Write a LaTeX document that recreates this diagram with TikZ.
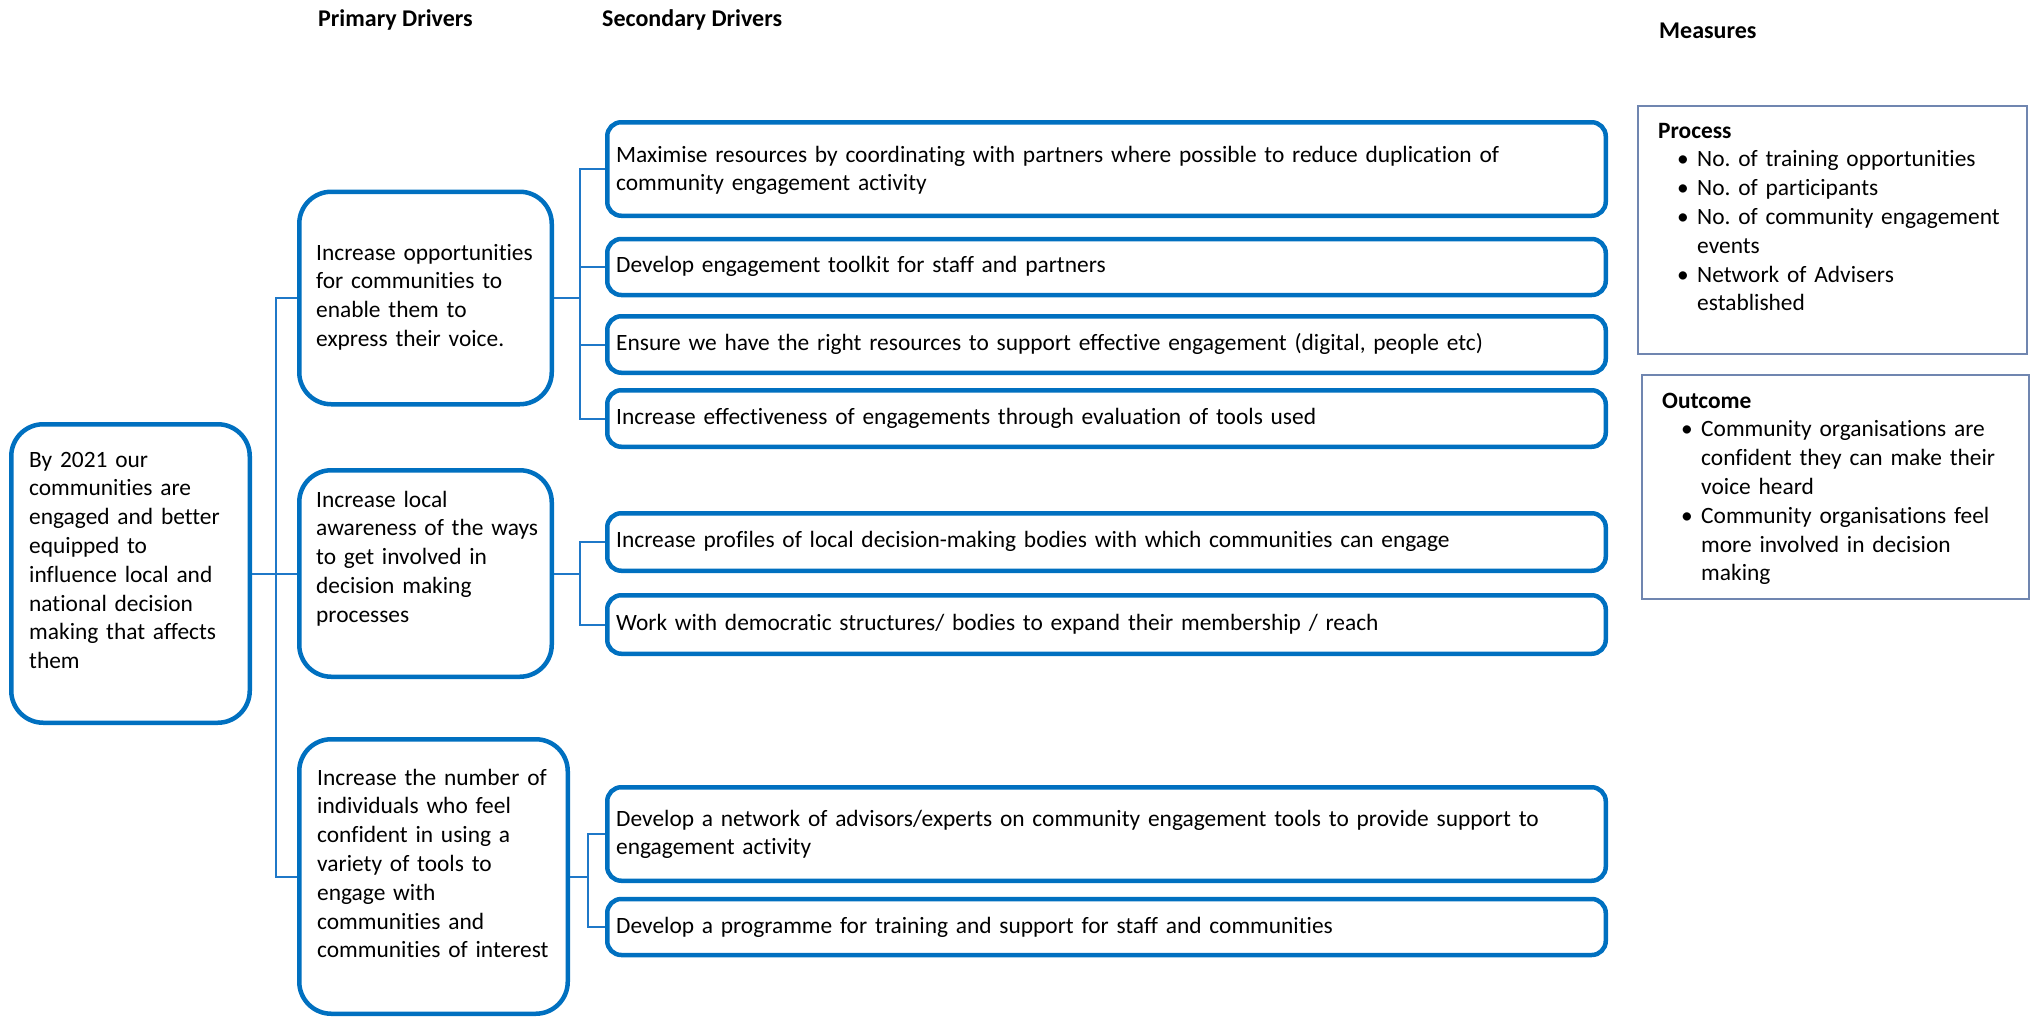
\documentclass[tikz,border=0pt]{standalone}
\usepackage{fontspec}
\setmainfont{Carlito}[Ligatures={NoCommon}]
\frenchspacing
\definecolor{boxblue}{HTML}{0070C0}
\definecolor{connblue}{HTML}{1F78C8}
\definecolor{slate}{HTML}{7086B0}
\newcommand\mbul{\hspace*{19pt}\makebox[20pt][l]{•}}
\newcommand\mind{\hspace*{39pt}}
\begin{document}
\begin{tikzpicture}[x=1pt,y=-1pt,
  every node/.style={font=\fontsize{23.4}{28.8}\selectfont},
  bigbox/.style={draw=boxblue,line width=4.5pt,rounded corners=32pt,fill=white,inner sep=0pt},
  secbox/.style={draw=boxblue,line width=4.5pt,rounded corners=14pt,fill=white,inner sep=0pt,minimum width=998.5pt},
  measbox/.style={draw=slate,line width=1.5pt,inner sep=0pt},
  txt/.style={anchor=base west,inner sep=0pt,text width=#1,align=left},
  hdr/.style={anchor=base west,inner sep=0pt,font=\fontsize{24}{28.8}\selectfont\bfseries},
  conn/.style={draw=connblue,line width=2pt}
]
\useasboundingbox (0,0) rectangle (2038,1017);

% headers
\node[hdr] (hP) at (318,26) {Primary Drivers};
\node[hdr] (hS) at (602,26) {Secondary Drivers};
\node[hdr] (hM) at (1659,38) {Measures};

% boxes
\node[bigbox,minimum width=238.5pt,minimum height=298.5pt] (R) at (130.5,573.5) {};
\node[bigbox,minimum width=252.5pt,minimum height=212.5pt] (P1) at (425.5,298) {};
\node[bigbox,minimum width=252.5pt,minimum height=206.5pt] (P2) at (425.5,573.5) {};
\node[bigbox,minimum width=268.5pt,minimum height=274.5pt] (P3) at (433.5,876.5) {};

\node[secbox,minimum height=93.5pt] (S1) at (1106.5,169) {};
\node[secbox,minimum height=56pt] (S2) at (1106.5,267) {};
\node[secbox,minimum height=56.5pt] (S3) at (1106.5,344.5) {};
\node[secbox,minimum height=56.5pt] (S4) at (1106.5,418.5) {};
\node[secbox,minimum height=57.5pt] (S5) at (1106.5,542) {};
\node[secbox,minimum height=58.5pt] (S6) at (1106.5,624.5) {};
\node[secbox,minimum height=93.5pt] (S7) at (1106.5,834) {};
\node[secbox,minimum height=56pt] (S8) at (1106.5,927) {};

\node[measbox,minimum width=389pt,minimum height=248pt] (MP) at (1832.5,230) {};
\node[measbox,minimum width=387pt,minimum height=224pt] (MO) at (1835.5,487) {};

% connectors
\coordinate (J0) at (276,573.5);
\coordinate (J1) at (580,298);
\coordinate (J2) at (580,573.5);
\coordinate (J3) at (588,876.5);
\draw[conn] (R.east) -- (P2.west);
\draw[conn] (J0) |- (P1.west);
\draw[conn] (J0) |- (P3.west);
\draw[conn] (P1.east) -- (J1);
\draw[conn] (J1) |- (S1.west);
\draw[conn] (J1) |- (S2.west);
\draw[conn] (J1) |- (S3.west);
\draw[conn] (J1) |- (S4.west);
\draw[conn] (P2.east) -- (J2);
\draw[conn] (J2) |- (S5.west);
\draw[conn] (J2) |- (S6.west);
\draw[conn] (P3.east) -- (J3);
\draw[conn] (J3) |- (S7.west);
\draw[conn] (J3) |- (S8.west);

% texts
\node[txt=220pt] (tR) at (29,467) {By 2021 our\\communities are\\engaged and better\\equipped to\\influence local and\\national decision\\making that affects\\them};
\node[txt=230pt] (tP1) at (316,260) {Increase opportunities\\for communities to\\enable them to\\express their voice.};
\node[txt=230pt] (tP2) at (316,507) {Increase local\\awareness of the ways\\to get involved in\\decision making\\processes};
\node[txt=250pt] (tP3) at (317,785) {Increase the number of\\individuals who feel\\confident in using a\\variety of tools to\\engage with\\communities and\\communities of interest};

\node[txt=980pt] (tS1) at (616,162) {Maximise resources by coordinating with partners where possible to reduce duplication of\\community engagement activity};
\node[txt=980pt] (tS2) at (616,272) {Develop engagement toolkit for staff and partners};
\node[txt=980pt] (tS3) at (616,350) {Ensure we have the right resources to support effective engagement (digital, people etc)};
\node[txt=980pt] (tS4) at (616,424) {Increase effectiveness of engagements through evaluation of tools used};
\node[txt=980pt] (tS5) at (616,547) {Increase profiles of local decision-making bodies with which communities can engage};
\node[txt=980pt] (tS6) at (616,630) {Work with democratic structures/ bodies to expand their membership / reach};
\node[txt=980pt] (tS7) at (616,826) {Develop a network of advisors/experts on community engagement tools to provide support to\\engagement activity};
\node[txt=980pt] (tS8) at (616,933) {Develop a programme for training and support for staff and communities};

\node[txt=365pt] (tMP) at (1658,138) {\textbf{Process}\\
\mbul No. of training opportunities\\
\mbul No. of participants\\
\mbul No. of community engagement\\
\mind events\\
\mbul Network of Advisers\\
\mind established};
\node[txt=365pt] (tMO) at (1662,408) {\textbf{Outcome}\\
\mbul Community organisations are\\
\mind confident they can make their\\
\mind voice heard\\
\mbul Community organisations feel\\
\mind more involved in decision\\
\mind making};
\end{tikzpicture}
\end{document}
